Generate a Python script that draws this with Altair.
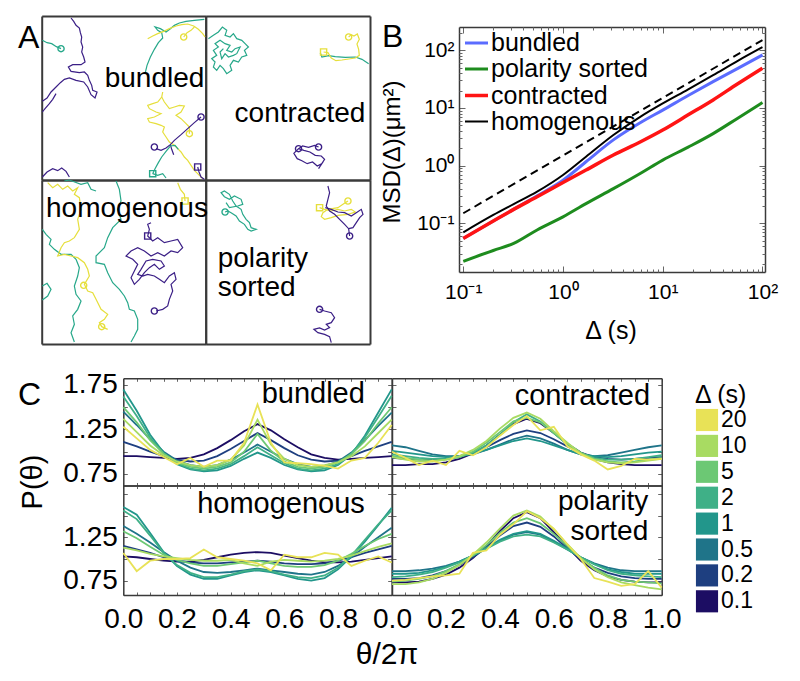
import altair as alt
import pandas as pd

W, H = 784, 665
FONT = "Liberation Sans"
FRAME = "#3a3a3a"
TICK = "#666666"

# ======================= Panel A : trajectories =======================
A_COLORS_DOMAIN = ["y", "t", "p"]
A_COLORS_RANGE = ["#e6df3c", "#27a88a", "#3b1f86"]

A_TL = [
    ("p", [(100,18),(108,28),(115,40),(125,48),(128,62),(132,75),(130,90),(135,105),(132,120),(138,135),(142,150),(130,158),(105,158),(92,165),(100,178),(125,182),(140,180),(150,190),(155,205),(162,220),(165,235),(178,240),(172,258),(160,248),(150,225),(138,210),(115,205),(95,198),(80,202),(68,212),(55,225),(40,240),(28,258),(14,268)]),
    ("p", [(14,300),(22,290),(35,275),(45,262),(55,245)]),
    ("t", [(14,85),(28,92),(42,95),(56,104),(70,110)]),
    ("t", [(322,185),(328,160),(338,135),(350,112),(362,92),(375,78),(372,62),(360,55),(352,45),(368,50),(385,60),(398,50),(410,40),(425,33),(445,28),(470,25),(500,22)]),
    ("y", [(330,80),(345,72),(360,65),(378,58),(395,50),(415,42),(432,38),(450,36),(468,42),(482,52),(495,65),(502,75)]),
    ("y", [(438,75),(448,62),(460,55),(470,45)]),
    ("y", [(375,240),(372,255),(360,270),(345,275),(330,280),(335,290),(355,300),(370,305),(350,315),(330,320),(335,330),(355,335),(370,340),(380,345),(375,360),(385,375),(395,390),(410,400),(420,410),(430,420),(440,435),(450,445),(460,460),(470,475),(485,490),(495,500)]),
    ("y", [(372,255),(380,270),(395,290),(410,285),(425,280),(440,282),(430,300),(415,310),(430,320),(445,335),(455,345),(455,365)]),
    ("p", [(490,315),(470,332),(450,350),(430,368),(410,385),(398,398),(385,408),(370,415),(355,410)]),
    ("p", [(398,398),(402,412),(408,428)]),
    ("t", [(345,485),(352,470),(362,452),(372,435),(385,418),(398,402),(412,400),(422,412)]),
    ("t", [(345,485),(360,490),(375,485),(385,498)]),
    ("p", [(480,465),(484,480),(490,495),(500,502)]),
    ("p", [(14,495),(28,480),(45,470),(60,476),(72,468),(85,478),(95,495)]),
]
A_TR = [
    ("t", [(20,80),(35,70),(50,60),(62,45),(75,55),(70,70),(85,75),(95,65),(105,80),(120,85),(130,95),(140,105),(128,115),(135,130),(120,135),(110,150),(95,145),(85,160),(90,175),(75,185),(65,170),(55,160),(45,175),(35,165),(40,150),(30,140),(45,130),(35,115),(50,105),(40,95),(55,85),(70,95),(85,100),(75,115),(90,120),(100,110),(115,105),(105,125),(95,130),(80,135),(70,125),(60,140),(55,120),(65,110)]),
    ("t", [(355,122),(360,135),(380,131),(400,134),(430,136),(460,135),(480,142),(500,155)]),
    ("y", [(365,120),(378,122),(388,138),(402,146),(420,144),(440,141),(460,138),(472,130),(470,112),(465,96),(472,82),(466,66),(456,72),(448,68),(440,75)]),
    ("p", [(290,410),(302,402),(320,406),(338,400),(350,405)]),
    ("p", [(290,410),(276,424),(286,440),(300,446),(316,455),(332,450),(346,462),(360,455),(350,470),(368,442),(358,432),(340,430),(324,420),(306,415),(290,410)]),
]
A_BL = [
    ("t", [(80,15),(95,12),(130,25),(150,20),(160,40),(175,45)]),
    ("t", [(14,160),(25,175),(40,190),(35,205),(50,220),(70,235),(100,235),(115,250),(125,275),(120,300),(110,330),(115,355),(130,375),(120,400),(105,420),(110,445),(100,470),(110,498)]),
    ("t", [(235,15),(245,40),(250,75),(240,100),(250,130),(225,155),(210,185),(200,215),(175,240),(175,260),(200,265),(210,290),(225,320),(245,340),(260,360),(270,380),(275,400),(290,405),(300,430),(300,460),(290,480),(280,498)]),
    ("t", [(14,330),(28,322),(40,340),(30,360),(14,372)]),
    ("y", [(30,20),(45,35),(60,25),(75,40),(90,30),(105,45),(120,35),(110,55),(125,65),(130,100),(120,130),(125,160),(110,185),(95,195),(80,200),(70,215),(60,240),(80,235),(100,240),(120,245),(140,260),(150,280),(155,300),(140,325),(150,345),(165,350),(175,370),(190,400),(210,415),(200,430),(185,440),(192,452),(210,460)]),
    ("y", [(420,20),(428,40),(440,55),(442,75)]),
    ("p", [(340,140),(330,145),(335,160),(330,180),(345,195),(360,185),(380,200),(400,195),(420,190),(435,215),(420,230),(400,225),(380,240),(360,230),(340,240),(320,225),(300,215),(280,225),(265,240),(285,250),(300,265),(290,285),(280,305),(290,325),(305,310),(320,290),(335,275),(350,265),(365,280),(380,270),(370,255),(345,250),(325,255),(310,280),(300,295),(315,300),(330,295),(350,300),(365,310),(380,320),(395,300),(410,290),(415,310),(400,325),(405,345),(395,370),(390,390),(375,400),(355,405)]),
]
A_BR = [
    ("t", [(562,108),(570,105),(580,110),(595,120),(605,135),(620,145),(630,160),(640,165),(655,160),(640,155),(635,140),(625,130),(615,115),(610,100),(595,90),(585,75),(575,55),(560,45),(550,50),(560,62),(575,70),(590,60),(610,70),(615,85),(600,90),(575,95),(565,80)]),
    ("y", [(845,95),(860,100),(880,105),(900,100),(920,105),(940,100),(952,108),(930,115),(900,118),(880,125),(860,130),(850,122),(855,110),(870,100),(900,95),(915,85),(930,75)]),
    ("p", [(870,30),(875,50),(870,70),(865,90),(875,105),(890,115),(905,130),(920,145),(932,158),(935,180)]),
    ("p", [(932,158),(945,155),(955,140),(965,125),(975,115),(970,100),(955,110),(940,120),(920,110),(900,108),(880,100),(862,95)]),
    ("p", [(845,400),(860,405),(880,410),(890,425),(880,440),(865,445),(875,455),(860,462),(845,456),(828,460),(840,470),(860,475),(875,482),(880,500)]),
]
A_MARKS = {
    "TL": [(70,110,"t","c"),(438,75,"y","c"),(455,365,"y","c"),(490,315,"p","c"),(350,405,"p","c"),(345,485,"t","s"),(480,465,"p","s")],
    "TR": [(365,120,"y","s"),(440,75,"y","c"),(290,410,"p","c"),(350,405,"p","c")],
    "BL": [(138,328,"y","c"),(192,452,"y","c"),(442,75,"y","s"),(330,180,"p","s"),(350,405,"p","c")],
    "BR": [(562,108,"t","c"),(845,95,"y","s"),(930,75,"y","c"),(935,180,"p","c"),(845,400,"p","c")],
}
# quadrant: pixel x-range, pixel y-range, data x-domain, data y-domain, label
A_GEOM = {
    "TL": ([33.7,197.7],[8,172],[12,504],[12,504],("bundled",500,225,"right")),
    "TR": ([197.7,362],[8,172],[12,504],[12,504],("contracted",490,330,"right")),
    "BL": ([33.7,197.7],[172,336],[12,504],[12,504],("homogenous",25,122,"left")),
    "BR": ([197.7,362],[172,336],[504,996],[12,504],("polarity\nsorted",540,272,"left")),
}
A_TRAJ = {"TL": A_TL, "TR": A_TR, "BL": A_BL, "BR": A_BR}

# ======================= Panel B : MSD =======================
B_DELTA = [0.1, 0.2, 0.32, 0.55, 1, 1.7, 3.2, 6, 10, 18, 32, 56, 100]
B_BUNDLED = [0.055, 0.11, 0.175, 0.30, 0.56, 1.17, 2.8, 5.6, 9.2, 16.5, 28.6, 48, 83]
B_POLARITY = [0.022, 0.034, 0.045, 0.077, 0.13, 0.22, 0.40, 0.74, 1.25, 2.1, 3.6, 6.6, 12.4]
B_CONTRACTED = [0.055, 0.11, 0.175, 0.29, 0.51, 0.84, 1.53, 2.6, 4.15, 7.6, 13.8, 26, 49]
B_HOMOG = [0.07, 0.14, 0.216, 0.355, 0.69, 1.43, 3.4, 7.1, 12, 21, 37, 65, 113]
B_REF_DELTA = [0.1, 100]
B_REF = [0.15, 150]
B_NAMES = ["bundled", "polarity sorted", "contracted", "homogenous"]
B_COLORS = ["#5b6cff", "#1e8c1e", "#ff1414", "#000000"]
B_WIDTHS = [3, 3, 3.5, 2]
B_TICKS = [0.1, 1, 10, 100]
B_TICK_LABELS = ["10⁻¹", "10⁰", "10¹", "10²"]
B_XMINOR = [0.2,0.3,0.4,0.5,0.6,0.7,0.8,0.9,2,3,4,5,6,7,8,9,20,30,40,50,60,70,80,90]
B_YMINOR = [0.02,0.03,0.04,0.05,0.06,0.07,0.08,0.09,0.2,0.3,0.4,0.5,0.6,0.7,0.8,0.9,
            2,3,4,5,6,7,8,9,20,30,40,50,60,70,80,90,200]
B_XPX = [451, 757]
B_YPX = [264, 19]
B_XDOM = [0.0906, 106]
B_YDOM = [0.0144, 253]

# ======================= Panel C : P(theta) =======================
C_X = [0.0,0.05,0.1,0.15,0.2,0.25,0.3,0.35,0.4,0.45,0.5,0.55,0.6,0.65,0.7,0.75,0.8,0.85,0.9,0.95,1.0]
C_DELTAS = ["20", "10", "5", "2", "1", "0.5", "0.2", "0.1"]
C_COLORS = ["#e8e257", "#a8db62", "#6cc874", "#3fb087", "#22968b", "#1f7489", "#1e3f80", "#1c0d63"]
C_DRAW_ORDER = ["0.1", "0.2", "0.5", "1", "2", "5", "10", "20"]

C_BUNDLED = {
    "0.1": [0.95,0.95,0.94,0.93,0.92,0.93,0.97,1.04,1.13,1.23,1.31,1.24,1.14,1.05,0.97,0.93,0.91,0.92,0.93,0.94,0.95],
    "0.2": [1.11,1.06,1.00,0.95,0.91,0.89,0.90,0.95,1.03,1.12,1.21,1.13,1.04,0.96,0.91,0.89,0.90,0.95,1.01,1.06,1.11],
    "0.5": [1.45,1.30,1.14,1.00,0.90,0.85,0.83,0.85,0.91,0.99,1.08,1.00,0.92,0.86,0.83,0.84,0.89,0.99,1.13,1.29,1.44],
    "1":   [1.70,1.46,1.19,0.99,0.86,0.80,0.78,0.79,0.84,0.92,0.99,0.93,0.85,0.80,0.78,0.79,0.85,0.97,1.18,1.44,1.70],
    "2":   [1.62,1.40,1.16,0.98,0.87,0.81,0.79,0.81,0.86,0.95,1.05,0.96,0.87,0.81,0.79,0.81,0.86,0.98,1.16,1.39,1.63],
    "5":   [1.50,1.33,1.13,0.98,0.88,0.83,0.81,0.83,0.88,1.00,1.20,1.01,0.89,0.83,0.81,0.83,0.88,0.97,1.12,1.32,1.50],
    "10":  [1.37,1.22,1.07,0.96,0.89,0.85,0.83,0.85,0.91,1.07,1.36,1.08,0.92,0.85,0.83,0.85,0.88,0.95,1.06,1.21,1.36],
    "20":  [1.28,1.15,1.02,0.94,0.86,0.93,0.83,0.90,0.90,1.10,1.53,1.10,0.88,0.87,0.86,0.84,0.81,0.90,0.93,1.10,1.30],
}
C_HOMOG = {
    "0.1": [1.03,1.02,1.00,0.98,0.97,0.97,0.99,1.02,1.05,1.07,1.08,1.07,1.04,1.01,0.98,0.96,0.96,0.97,0.99,1.01,1.03],
    "0.2": [1.15,1.11,1.07,1.02,0.98,0.96,0.95,0.95,0.96,0.97,0.98,0.97,0.95,0.94,0.94,0.95,0.98,1.02,1.07,1.11,1.15],
    "0.5": [1.38,1.29,1.19,1.08,0.98,0.90,0.85,0.84,0.85,0.87,0.89,0.87,0.85,0.83,0.82,0.85,0.92,1.02,1.14,1.25,1.36],
    "1":   [1.60,1.51,1.30,1.08,0.92,0.82,0.77,0.77,0.81,0.85,0.87,0.85,0.81,0.77,0.75,0.78,0.88,1.03,1.20,1.39,1.59],
    "2":   [1.56,1.46,1.27,1.07,0.93,0.84,0.79,0.79,0.82,0.86,0.88,0.86,0.82,0.79,0.78,0.81,0.90,1.04,1.22,1.40,1.56],
    "5":   [1.32,1.24,1.14,1.05,0.99,0.95,0.92,0.92,0.94,0.96,0.98,0.95,0.92,0.91,0.91,0.93,0.98,1.06,1.15,1.23,1.29],
    "10":  [1.13,1.10,1.06,1.03,1.01,0.99,0.98,0.98,0.99,0.95,0.92,0.97,0.99,0.98,0.97,0.98,1.00,1.04,1.09,1.14,1.18],
    "20":  [1.07,0.86,0.98,1.00,1.00,1.01,1.11,1.02,1.00,0.98,0.95,0.87,1.05,1.02,1.02,1.07,1.05,0.92,0.98,1.03,0.96],
}
C_CONTRACTED = {
    "0.1": [0.85,0.85,0.86,0.86,0.88,0.92,0.98,1.07,1.19,1.31,1.37,1.32,1.21,1.09,0.99,0.92,0.88,0.86,0.85,0.85,0.85],
    "0.2": [0.93,0.92,0.91,0.91,0.92,0.95,0.99,1.05,1.13,1.20,1.24,1.21,1.14,1.06,0.99,0.94,0.92,0.91,0.92,0.93,0.94],
    "0.5": [1.07,1.05,1.01,0.97,0.95,0.95,0.97,1.02,1.08,1.14,1.18,1.15,1.09,1.02,0.97,0.95,0.96,0.99,1.02,1.05,1.07],
    "1":   [1.01,0.99,0.97,0.95,0.94,0.95,0.98,1.02,1.07,1.12,1.15,1.12,1.07,1.02,0.97,0.95,0.94,0.95,0.97,0.99,1.00],
    "2":   [0.97,0.95,0.93,0.92,0.92,0.94,0.99,1.07,1.19,1.33,1.42,1.34,1.21,1.08,0.98,0.93,0.91,0.91,0.92,0.94,0.96],
    "5":   [0.95,0.93,0.91,0.90,0.91,0.94,1.00,1.10,1.22,1.34,1.38,1.33,1.21,1.09,0.99,0.92,0.89,0.88,0.89,0.91,0.93],
    "10":  [0.94,0.91,0.89,0.89,0.91,0.95,1.02,1.12,1.26,1.38,1.44,1.37,1.23,1.10,0.98,0.91,0.88,0.87,0.88,0.90,0.92],
    "20":  [1.00,0.93,0.85,0.90,0.85,1.01,0.96,1.05,1.18,1.30,1.40,1.24,1.28,1.06,0.97,0.90,0.80,0.84,0.92,0.91,0.92],
}
C_POLARITY = {
    "0.1": [0.73,0.73,0.74,0.77,0.82,0.90,1.01,1.15,1.32,1.47,1.54,1.47,1.31,1.14,0.98,0.87,0.80,0.76,0.74,0.73,0.73],
    "0.2": [0.77,0.77,0.78,0.81,0.86,0.93,1.02,1.13,1.27,1.38,1.42,1.37,1.26,1.12,1.00,0.90,0.84,0.80,0.78,0.77,0.77],
    "0.5": [0.86,0.86,0.87,0.89,0.92,0.97,1.04,1.12,1.21,1.28,1.31,1.28,1.20,1.11,1.02,0.95,0.90,0.87,0.86,0.86,0.86],
    "1":   [0.83,0.83,0.84,0.87,0.91,0.97,1.04,1.13,1.22,1.29,1.32,1.29,1.21,1.12,1.02,0.94,0.88,0.85,0.83,0.83,0.83],
    "2":   [0.79,0.80,0.82,0.85,0.90,0.96,1.04,1.12,1.20,1.26,1.28,1.26,1.19,1.11,1.02,0.94,0.87,0.83,0.81,0.80,0.79],
    "5":   [0.74,0.75,0.77,0.80,0.86,0.94,1.04,1.16,1.30,1.42,1.47,1.41,1.29,1.15,1.01,0.90,0.81,0.76,0.74,0.73,0.72],
    "10":  [0.71,0.71,0.73,0.77,0.84,0.93,1.05,1.19,1.35,1.50,1.56,1.49,1.34,1.17,1.01,0.88,0.79,0.73,0.70,0.67,0.65],
    "20":  [0.75,0.76,0.78,0.80,0.81,0.83,1.07,1.10,1.28,1.40,1.55,1.47,1.35,1.17,1.00,0.78,0.74,0.69,0.71,0.86,0.67],
}
C_XTICKS_LEFT = [0.0, 0.2, 0.4, 0.6, 0.8]
C_XTICKS_RIGHT = [0.0, 0.2, 0.4, 0.6, 0.8, 1.0]
C_YTICKS_TOP = [0.75, 1.25, 1.75]
C_YTICKS_BOTTOM = [0.75, 1.25]
C_YMINOR = [0.75, 1.0, 1.25, 1.5, 1.75]
# name: data, x px, y px (bottom, top), y domain, left labels, bottom labels, label (text, x, y, size, line height)
C_GEOM = [
    ("bundled", C_BUNDLED, [115.3, 383.7], [477.5, 370.3], [0.62, 1.825], True, False, ("bundled", 0.90, 1.545, 29, 27)),
    ("contracted", C_CONTRACTED, [384.0, 653.7], [477.5, 370.3], [0.62, 1.825], False, False, ("contracted", 0.957, 1.527, 29, 27)),
    ("homogenous", C_HOMOG, [115.3, 383.7], [587.0, 477.5], [0.585, 1.847], True, True, ("homogenous", 0.90, 1.526, 29, 27)),
    ("polarity sorted", C_POLARITY, [384.0, 653.7], [587.0, 477.5], [0.585, 1.847], False, True, ("polarity\nsorted", 0.95, 1.565, 28, 30)),
]


# ======================= helpers =======================
def lin(domain, rng):
    return alt.Scale(domain=domain, range=rng, nice=False, zero=False)


def logs(domain, rng):
    return alt.Scale(type="log", domain=domain, range=rng, nice=False)


def frame_axis(orient, offset, values=None, size=0, domain=True, dwidth=1.5):
    kw = dict(orient=orient, offset=offset, labels=False, grid=False, title=None,
              domain=domain, domainColor=FRAME, domainWidth=dwidth)
    if size > 0:
        kw.update(ticks=True, values=values, tickSize=size, tickColor=TICK, tickWidth=1)
    else:
        kw.update(ticks=False)
    return alt.Axis(**kw)


def label_axis(orient, offset, values, size, pad, fmt=None, expr=None):
    kw = dict(orient=orient, offset=offset, values=values, labelFontSize=size, labelPadding=pad,
              labelFont=FONT, labelColor="black", ticks=False, domain=False, grid=False, title=None,
              labelFlush=False, labelOverlap=False)
    if fmt:
        kw["format"] = fmt
    if expr:
        kw["labelExpr"] = expr
    return alt.Axis(**kw)


def ghost(df, xf, yf, xs, ys, xaxis, yaxis):
    return alt.Chart(df).mark_point(opacity=0).encode(
        x=alt.X(xf, scale=xs, axis=xaxis), y=alt.Y(yf, scale=ys, axis=yaxis))


def note(text, x, y, size, angle=0, align="center", baseline="middle"):
    return alt.Chart(pd.DataFrame({"t": [text]})).mark_text(
        font=FONT, fontSize=size, angle=angle, align=align, baseline=baseline, color="black"
    ).encode(x=alt.value(x), y=alt.value(y), text="t:N")


def panel_text(text, x, y, xs, ys, align, size, line_height):
    df = pd.DataFrame({"t": [text], "x": [x], "y": [y]})
    return alt.Chart(df).mark_text(
        font=FONT, fontSize=size, align=align, baseline="alphabetic", color="black",
        lineBreak="\n", lineHeight=line_height
    ).encode(x=alt.X("x:Q", scale=xs, axis=None), y=alt.Y("y:Q", scale=ys, axis=None), text="t:N")


layers = []

# ======================= build A =======================
a_color = alt.Scale(domain=A_COLORS_DOMAIN, range=A_COLORS_RANGE)
for q, (xpx, ypx, xdom, ydom, lab) in A_GEOM.items():
    rows = []
    for k, (c, pts) in enumerate(A_TRAJ[q]):
        for i, (x, y) in enumerate(pts):
            rows.append({"id": k, "i": i, "x": x, "y": y, "c": c})
    df = pd.DataFrame(rows)
    xs = lin(xdom, xpx)
    ys = lin(ydom, ypx)
    layers.append(
        alt.Chart(df).mark_line(strokeWidth=1.2).encode(
            x=alt.X("x:Q", scale=xs, axis=frame_axis("bottom", ypx[1] - H, dwidth=2)),
            y=alt.Y("y:Q", scale=ys, axis=frame_axis("left", -xpx[0], dwidth=2)),
            color=alt.Color("c:N", scale=a_color, legend=None),
            detail="id:N",
            order="i:Q",
        )
    )
    mdf = pd.DataFrame([{"x": m[0], "y": m[1], "c": m[2], "m": m[3]} for m in A_MARKS[q]])
    layers.append(
        alt.Chart(mdf).mark_point(filled=False, strokeWidth=1.4, size=38, opacity=1).encode(
            x=alt.X("x:Q", scale=xs, axis=frame_axis("top", -ypx[0], dwidth=2)),
            y=alt.Y("y:Q", scale=ys, axis=frame_axis("right", xpx[1] - W, dwidth=2)),
            color=alt.Color("c:N", scale=a_color, legend=None),
            shape=alt.Shape("m:N", scale=alt.Scale(domain=["c", "s"], range=["circle", "square"]), legend=None),
        )
    )
    layers.append(panel_text(lab[0], lab[1], lab[2], xs, ys, lab[3], 28, 29))

# ======================= build B =======================
b_rows = []
for name, vals in zip(B_NAMES, [B_BUNDLED, B_POLARITY, B_CONTRACTED, B_HOMOG]):
    for d, v in zip(B_DELTA, vals):
        b_rows.append({"s": name, "d": d, "v": v})
bdf = pd.DataFrame(b_rows)
bx = logs(B_XDOM, B_XPX)
by = logs(B_YDOM, B_YPX)
expr = ("datum.value < 0.5 ? '%s' : (datum.value < 5 ? '%s' : (datum.value < 50 ? '%s' : '%s'))"
        % tuple(B_TICK_LABELS))
b_legend = alt.Legend(orient="none", legendX=455, legendY=22, title=None, symbolType="stroke",
                      symbolSize=529, labelFontSize=25, labelFont=FONT, labelColor="black",
                      rowPadding=-3, labelOffset=1, padding=0)
layers.append(
    alt.Chart(bdf).mark_line(interpolate="monotone").encode(
        x=alt.X("d:Q", scale=bx, axis=label_axis("bottom", B_YPX[0] - H, B_TICKS, 21, 9, expr=expr)),
        y=alt.Y("v:Q", scale=by, axis=label_axis("left", -B_XPX[0], B_TICKS, 21, 5, expr=expr)),
        color=alt.Color("s:N", scale=alt.Scale(domain=B_NAMES, range=B_COLORS), legend=b_legend),
        strokeWidth=alt.StrokeWidth("s:N", scale=alt.Scale(type="ordinal", domain=B_NAMES, range=B_WIDTHS),
                                    legend=b_legend),
    )
)
refdf = pd.DataFrame({"d": B_REF_DELTA, "v": B_REF})
layers.append(
    alt.Chart(refdf).mark_line(color="black", strokeWidth=2, strokeDash=[8, 5]).encode(
        x=alt.X("d:Q", scale=bx, axis=None), y=alt.Y("v:Q", scale=by, axis=None))
)
# frame with inward ticks (major and minor)
layers.append(ghost(bdf, "d:Q", "v:Q", bx, by,
                    frame_axis("top", -B_YPX[0], B_TICKS, 6),
                    frame_axis("right", B_XPX[0] - W, B_TICKS, 6)))
layers.append(ghost(bdf, "d:Q", "v:Q", bx, by,
                    frame_axis("bottom", B_YPX[1] - H, B_TICKS, 6),
                    frame_axis("left", -B_XPX[1], B_TICKS, 6)))
layers.append(ghost(bdf, "d:Q", "v:Q", bx, by,
                    frame_axis("top", -B_YPX[0], B_XMINOR, 3, domain=False),
                    frame_axis("right", B_XPX[0] - W, B_YMINOR, 3, domain=False)))
layers.append(ghost(bdf, "d:Q", "v:Q", bx, by,
                    frame_axis("bottom", B_YPX[1] - H, B_XMINOR, 3, domain=False),
                    frame_axis("left", -B_XPX[1], B_YMINOR, 3, domain=False)))

# ======================= build C =======================
c_color = alt.Scale(domain=C_DELTAS, range=C_COLORS)
for name, data, xpx, ypx, ydom, left, bottom, lab in C_GEOM:
    rows = []
    for k, d in enumerate(C_DRAW_ORDER):
        for x, v in zip(C_X, data[d]):
            rows.append({"d": d, "k": k, "x": x, "v": v})
    df = pd.DataFrame(rows)
    xs = lin([0, 1], xpx)
    ys = lin(ydom, ypx)
    if bottom:
        xa = label_axis("bottom", ypx[0] - H, C_XTICKS_LEFT if left else C_XTICKS_RIGHT, 28, 10, fmt=".1f")
    else:
        xa = None
    if left:
        ya = label_axis("left", -xpx[0], C_YTICKS_TOP if not bottom else C_YTICKS_BOTTOM, 28, 6, fmt=".2f")
    else:
        ya = None
    layers.append(
        alt.Chart(df).mark_line(strokeWidth=1.8).encode(
            x=alt.X("x:Q", scale=xs, axis=xa),
            y=alt.Y("v:Q", scale=ys, axis=ya),
            color=alt.Color("d:N", scale=c_color, legend=None),
            detail="k:N",
        )
    )
    layers.append(ghost(df, "x:Q", "v:Q", xs, ys,
                        frame_axis("top", -ypx[0], C_X, 3),
                        frame_axis("right", xpx[0] - W, C_YMINOR, 4)))
    layers.append(ghost(df, "x:Q", "v:Q", xs, ys,
                        frame_axis("bottom", ypx[1] - H, C_X, 3),
                        frame_axis("left", -xpx[1], C_YMINOR, 4)))
    layers.append(panel_text(lab[0], lab[1], lab[2], xs, ys, "right", lab[3], lab[4]))
    if name == "contracted":
        c_legend = alt.Legend(orient="none", legendX=687, legendY=375, title="Δ (s)",
                              titleFontSize=25, titleFont=FONT, titleFontWeight="normal",
                              titleColor="black", titlePadding=0,
                              symbolType="square", symbolSize=490, symbolOpacity=1,
                              labelFontSize=23, labelFont=FONT, labelColor="black",
                              labelOffset=2, rowPadding=1.9, padding=0)
        layers.append(
            alt.Chart(df).mark_square(opacity=0).encode(
                x=alt.X("x:Q", scale=xs, axis=None),
                y=alt.Y("v:Q", scale=ys, axis=None),
                color=alt.Color("d:N", scale=c_color, legend=c_legend),
            )
        )

# ======================= annotations =======================
layers.append(note("A", 10, 40, 32, align="left", baseline="alphabetic"))
layers.append(note("B", 374, 39, 32, align="left", baseline="alphabetic"))
layers.append(note("C", 10, 397, 32, align="left", baseline="alphabetic"))
layers.append(note("MSD(Δ)(μm²)", 385, 144, 24, angle=270))
layers.append(note("Δ (s)", 603, 323, 25))
layers.append(note("P(θ)", 25, 474, 29, angle=270))
layers.append(note("θ/2π", 379, 647, 30))

chart = alt.layer(*layers).resolve_scale(
    x="independent", y="independent", color="independent", shape="independent", strokeWidth="independent"
).properties(
    width=W, height=H, autosize=alt.AutoSizeParams(type="none"), padding=0
).configure(font=FONT).configure_view(stroke=None)

chart.save("out.html", embed_options={"renderer": "svg", "actions": False})
